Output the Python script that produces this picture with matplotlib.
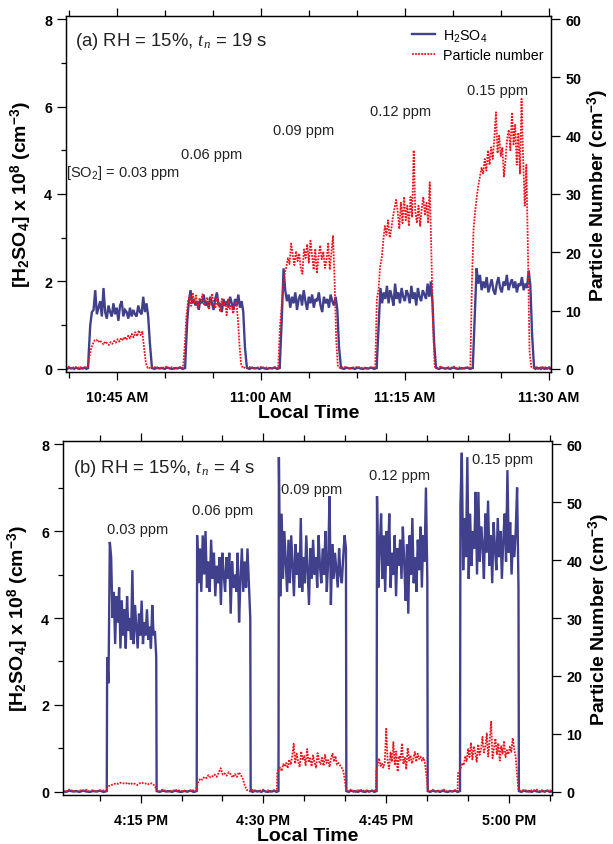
import numpy as np
import matplotlib
matplotlib.use('Agg')
import matplotlib.pyplot as plt
from matplotlib.ticker import MultipleLocator, FuncFormatter

plt.rcParams['font.family'] = ['Liberation Sans', 'DejaVu Sans']
plt.rcParams['mathtext.fontset'] = 'custom'
plt.rcParams['mathtext.rm'] = 'Liberation Sans'
plt.rcParams['mathtext.bf'] = 'Liberation Sans:bold'
plt.rcParams['mathtext.it'] = 'Liberation Serif:italic'

NAVY = '#40408c'
RED = '#f0141e'

# ---------------- panel (a): minutes after 10:40 AM ----------------
a_t0 = 10 * 60 + 40
a_h_win = [(2.05, 8.6), (12.15, 18.5), (22.0, 28.3), (32.1, 38.2), (42.1, 48.4)]
a_h_vals = [
    [0.3, 1.0, 1.3, 1.35, 1.8, 1.25, 1.4, 1.55, 1.2, 1.85, 1.3, 1.15, 1.45, 1.3, 1.2, 1.5, 1.25, 1.4, 1.1, 1.45,
     1.55, 1.2, 1.35, 1.3, 1.15, 1.4, 1.2, 1.35, 1.25, 1.2, 1.45, 1.3, 1.25, 1.65, 1.3, 1.5, 1.2, 0.6, 0.15],
    [0.3, 1.1, 1.55, 1.8, 1.5, 1.6, 1.45, 1.55, 1.35, 1.6, 1.5, 1.7, 1.45, 1.55, 1.4, 1.65, 1.5, 1.35, 1.6, 1.75,
     1.45, 1.5, 1.3, 1.6, 1.45, 1.55, 1.4, 1.65, 1.5, 1.35, 1.6, 1.45, 1.7, 1.4, 1.55, 1.3, 0.5, 0.1],
    [0.3, 1.2, 2.3, 1.8, 1.55, 1.7, 1.4, 1.65, 1.5, 1.75, 1.35, 1.6, 1.7, 1.45, 1.8, 1.55, 1.35, 1.65, 1.5, 1.7,
     1.4, 1.6, 1.55, 1.75, 1.45, 1.3, 1.65, 1.5, 1.6, 1.4, 1.7, 1.55, 1.45, 1.65, 1.35, 0.5, 0.1],
    [0.3, 1.1, 1.85, 1.5, 1.75, 1.6, 1.9, 1.5, 1.8, 1.65, 1.45, 1.95, 1.6, 1.75, 1.5, 1.85, 1.65, 1.55, 1.8, 1.7,
     1.5, 1.9, 1.6, 1.75, 1.45, 1.85, 1.65, 1.55, 1.8, 1.7, 1.6, 1.95, 1.65, 2.0, 1.5, 0.6, 0.1],
    [0.3, 1.3, 2.3, 1.95, 2.15, 1.8, 2.0, 1.85, 2.1, 1.75, 1.9, 2.05, 1.8, 1.7, 1.95, 2.1, 1.85, 1.75, 2.0, 1.9,
     2.15, 1.8, 1.95, 2.05, 1.85, 2.0, 1.75, 1.95, 1.9, 2.1, 1.8, 1.95, 1.85, 2.25, 1.9, 0.8, 0.15],
]
a_p_win = [(1.95, 8.2), (11.9, 18.1), (21.8, 28.0), (31.9, 38.07), (41.8, 48.13)]
a_p_vals = [
    [0.3, 2.0, 3.6, 4.3, 4.9, 5.0, 4.6, 4.9, 4.5, 4.2, 4.7, 4.4, 4.1, 4.6, 4.3, 4.8, 4.5, 5.1, 4.7, 5.3,
     4.9, 5.5, 5.0, 5.7, 5.2, 6.0, 5.4, 6.3, 5.6, 6.6, 5.8, 6.4, 3.5, 1.0, 0.2],
    [0.5, 4.0, 9.0, 11.5, 12.5, 10.8, 12.9, 11.2, 12.6, 10.5, 12.0, 11.7, 12.8, 10.9, 11.5, 12.3, 10.2, 11.8,
     12.9, 11.0, 10.4, 12.2, 11.3, 9.8, 12.0, 10.7, 11.4, 9.2, 12.1, 10.3, 11.0, 9.5, 10.8, 11.6, 8.5, 4.0, 0.8, 0.2],
    [0.5, 7.0, 10.5, 14.0, 16.5, 17.5, 19.0, 18.0, 21.5, 19.5, 17.8, 20.2, 18.5, 19.8, 17.2, 16.3, 20.5, 19.0,
     21.4, 18.2, 22.0, 19.5, 17.0, 20.6, 16.4, 19.2, 21.2, 18.8, 20.1, 17.3, 18.7, 21.5, 17.0, 19.9, 22.8, 15.0,
     5.0, 0.6],
    [0.5, 12.0, 13.5, 17.5, 19.0, 22.0, 24.5, 23.0, 25.5, 22.5, 24.0, 26.0, 27.5, 29.0, 27.0, 24.0, 28.5, 25.0,
     29.5, 25.5, 28.0, 24.5, 29.5, 26.0, 37.5, 27.0, 25.0, 28.0, 24.5, 27.5, 29.5, 26.5, 28.5, 25.0, 32.0, 20.0,
     8.0, 1.0],
    [0.5, 15.0, 24.0, 27.0, 29.5, 31.5, 33.0, 34.5, 33.5, 36.0, 34.0, 37.5, 35.0, 38.0, 36.0, 39.5, 44.0, 37.0,
     40.0, 36.5, 38.0, 33.0, 36.0, 39.5, 41.0, 37.5, 44.0, 38.5, 42.0, 35.0, 40.5, 33.5, 46.3, 36.0, 28.0, 35.0,
     20.0, 3.0, 0.5],
]
a_labels = ['[SO$_2$] = 0.03 ppm', '0.06 ppm', '0.09 ppm', '0.12 ppm', '0.15 ppm']
a_label_xy = [(-0.3, 4.5), (11.64, 4.91), (21.2, 5.46), (31.3, 5.9), (41.5, 6.38)]

# ---------------- panel (b): minutes after 4:10 PM ----------------
b_t0 = 16 * 60 + 10
b_h_win = [(0.9, 6.9), (11.9, 18.4), (21.9, 30.1), (33.9, 40.05), (44.1, 51.2)]
b_h_vals = [
    [3.1, 2.5, 5.75, 5.4, 4.0, 4.6, 3.4, 4.5, 3.9, 4.7, 3.3, 4.4, 3.6, 4.2, 3.3, 4.5, 3.7, 4.0, 3.5, 5.1,
     3.4, 4.3, 3.8, 3.3, 4.1, 3.6, 4.4, 3.4, 3.9, 3.6, 4.2, 3.5, 3.8, 3.3, 4.3, 3.6, 3.7, 3.1],
    [5.9, 4.8, 5.6, 4.6, 5.9, 5.0, 6.0, 4.7, 5.3, 4.6, 5.8, 4.9, 5.5, 4.5, 5.2, 4.8, 5.4, 4.3, 5.5, 5.0,
     4.6, 5.4, 4.9, 5.5, 4.1, 5.3, 4.7, 5.0, 4.6, 5.5, 3.9, 4.9, 5.6, 4.6, 5.3, 4.7, 5.6, 4.8, 4.0],
    [7.7, 4.5, 6.4, 4.9, 6.0, 5.3, 4.6, 5.8, 4.8, 5.9, 5.2, 4.5, 5.7, 5.0, 5.5, 4.7, 6.3, 4.6, 5.4, 4.8,
     5.9, 5.1, 4.3, 5.6, 4.9, 5.8, 5.0, 5.4, 4.7, 5.9, 5.2, 4.8, 5.6, 5.0, 6.0, 4.6, 5.3, 6.8, 4.3, 5.7,
     4.9, 5.5, 5.1, 4.7, 5.6, 5.0, 4.8, 5.4, 5.9, 5.6],
    [6.8, 4.7, 5.6, 6.4, 4.9, 5.9, 4.6, 6.0, 5.2, 6.4, 4.7, 5.5, 5.0, 5.9, 4.5, 5.6, 5.2, 5.8, 4.9, 6.1,
     5.3, 4.4, 5.7, 4.1, 5.9, 5.0, 6.3, 4.8, 5.4, 4.6, 5.8, 5.1, 6.1, 4.7, 5.9, 5.3, 7.0, 4.9],
    [6.6, 7.8, 5.1, 6.3, 5.4, 7.7, 4.9, 6.4, 5.2, 6.0, 5.6, 6.9, 5.0, 6.9, 5.3, 6.1, 5.7, 4.9, 6.4, 5.5,
     6.7, 5.2, 5.9, 4.8, 6.2, 5.6, 5.1, 6.3, 5.4, 6.0, 4.9, 5.8, 6.4, 5.3, 7.4, 5.5, 6.2, 5.0, 5.9, 5.4,
     6.0, 7.0, 4.7],
]
b_p_win = [(0.8, 6.9), (11.8, 18.0), (21.7, 30.1), (33.8, 40.1), (43.8, 51.2)]
b_p_vals = [
    [0.5, 1.0, 1.2, 1.3, 1.5, 1.4, 1.6, 1.5, 1.4, 1.6, 1.3, 1.5, 1.4, 1.2, 1.5, 1.6, 1.4, 1.5, 1.3, 1.5, 1.2, 0.6],
    [0.6, 1.8, 2.3, 2.1, 2.6, 2.4, 2.9, 2.5, 2.7, 3.0, 2.6, 3.3, 4.1, 3.0, 3.2, 2.8, 3.4, 3.0, 2.5, 3.1,
     2.6, 3.4, 2.9, 2.2, 1.0, 0.3],
    [3.4, 3.9, 4.2, 3.6, 4.8, 4.4, 5.0, 4.1, 5.6, 4.7, 6.1, 8.3, 4.9, 6.6, 5.2, 4.3, 7.0, 5.5, 6.2, 4.6,
     7.4, 5.1, 5.8, 4.4, 6.3, 5.0, 4.2, 6.7, 5.3, 4.8, 5.9, 4.5, 6.4, 5.0, 5.5, 4.3, 5.8, 6.6, 5.2, 6.2,
     4.7, 5.0, 4.6, 4.2, 3.9, 2.5, 0.6],
    [3.4, 4.6, 5.8, 4.5, 4.9, 4.2, 5.1, 10.9, 5.3, 4.0, 6.8, 5.2, 8.6, 4.6, 7.0, 3.5, 6.2, 5.5, 8.4, 4.8,
     6.0, 3.9, 7.6, 5.4, 6.3, 4.9, 5.8, 6.9, 5.2, 6.6, 5.7, 6.1, 5.4, 5.9, 5.0, 3.2, 0.5],
    [3.2, 3.6, 4.2, 5.0, 4.6, 6.2, 5.3, 7.4, 6.0, 8.5, 5.6, 7.9, 6.7, 5.2, 8.2, 6.4, 7.3, 9.5, 6.8, 7.7,
     10.1, 6.1, 8.9, 12.1, 5.8, 7.6, 9.2, 6.5, 8.4, 5.4, 7.9, 6.6, 8.8, 6.0, 7.2, 6.5, 7.8, 6.9, 9.3, 7.4,
     6.2, 3.0, 0.5],
]
b_labels = ['0.03 ppm', '0.06 ppm', '0.09 ppm', '0.12 ppm', '0.15 ppm']
b_label_xy = [(0.84, 6.05), (11.24, 6.48), (22.1, 6.97), (32.9, 7.29), (45.5, 7.66)]

# baseline readings between SO2 pulses
base_h = [0.02, 0.0, 0.03, 0.01, 0.02, 0.0, 0.03, 0.01, 0.0, 0.02, 0.01, 0.03, 0.0, 0.02]
base_p = [0.3, 0.1, 0.4, 0.2, 0.0, 0.3, 0.2, 0.4, 0.1, 0.3, 0.0, 0.2, 0.3, 0.1]


def series(windows, values, base, t_lo, t_hi):
    t, y = [], []
    edges = [t_lo] + [w for win in windows for w in win] + [t_hi]
    for i in range(len(windows) + 1):
        g0, g1 = edges[2 * i], edges[2 * i + 1]
        t += list(np.linspace(g0 + 0.05, g1 - 0.05, len(base)))
        y += base
        if i < len(windows):
            s, e = windows[i]
            t += list(np.linspace(s, e, len(values[i])))
            y += values[i]
    return np.array(t), np.array(y)


def clock(m, pos):
    h, mm = divmod(int(round(m)), 60)
    ampm = 'AM' if h < 12 else 'PM'
    if h > 12:
        h -= 12
    return f'{h}:{mm:02d} {ampm}'


def panel(ax, t0, xlim, h_win, h_vals, p_win, p_vals, title, title_xy, labels, label_xy, legend=False):
    th, yh = series(h_win, h_vals, base_h, xlim[0] - 0.1, xlim[1] + 0.1)
    tp, yp = series(p_win, p_vals, base_p, xlim[0] - 0.1, xlim[1] + 0.1)
    lh, = ax.plot(t0 + th, yh, color=NAVY, lw=1.7, solid_joinstyle='miter')
    ax2 = ax.twinx()
    lp, = ax2.plot(t0 + tp, yp, color=RED, lw=1.3, ls=(0, (1, 0.7)))

    ax.set_xlim(t0 + xlim[0], t0 + xlim[1])
    ax.set_ylim(-0.07, 8.07)
    ax2.set_ylim(-0.525, 60.525)

    ax.xaxis.set_major_locator(MultipleLocator(15))
    ax.xaxis.set_minor_locator(MultipleLocator(5))
    ax.xaxis.set_major_formatter(FuncFormatter(clock))
    ax.yaxis.set_major_locator(MultipleLocator(2))
    ax.yaxis.set_minor_locator(MultipleLocator(1))
    ax2.yaxis.set_major_locator(MultipleLocator(10))

    ax.tick_params(axis='x', which='both', direction='out', top=True, labeltop=False,
                   labelsize=10.3, pad=7, width=0.9)
    ax.tick_params(axis='x', which='major', length=6)
    ax.tick_params(axis='x', which='minor', length=4)
    ax.tick_params(axis='y', which='major', direction='out', length=6.5, width=0.9, labelsize=10.3, pad=3.5)
    ax.tick_params(axis='y', which='minor', direction='out', length=3.5, width=0.9)
    ax2.tick_params(axis='y', direction='out', length=6.5, width=0.9, labelsize=10.3, pad=4)
    for lab in ax.get_xticklabels() + ax.get_yticklabels() + ax2.get_yticklabels():
        lab.set_fontweight('bold')
    for a in (ax, ax2):
        for s in a.spines.values():
            s.set_linewidth(0.9)

    ax.set_xlabel('Local Time', fontsize=14, fontweight='bold', labelpad=0)
    ax.set_ylabel(r'[H$_\mathbf{2}$SO$_\mathbf{4}$] x 10$^\mathbf{8}$ (cm$^\mathbf{-3}$)',
                  fontsize=14, fontweight='bold')
    ax.yaxis.set_label_coords(-0.065, 0.5)
    ax2.set_ylabel(r'Particle Number (cm$^\mathbf{-3}$)', fontsize=14, fontweight='bold')
    ax2.yaxis.set_label_coords(1.072, 0.5)

    ax.text(t0 + title_xy[0], title_xy[1], title, fontsize=13.3, color='#222222', ha='left', va='center')
    for s, (x, y) in zip(labels, label_xy):
        ax.text(t0 + x, y, s, fontsize=10.5, color='#222222', ha='left', va='center')

    if legend:
        ax2.legend([lh, lp], ['H$_2$SO$_4$', 'Particle number'], loc='upper right',
                   bbox_to_anchor=(1.0, 0.99), frameon=False, fontsize=10.3, handlelength=1.6,
                   handletextpad=0.5, labelspacing=0.3, borderpad=0.35, borderaxespad=0.2)


fig = plt.figure(figsize=(6.13, 8.45), dpi=100)
axA = fig.add_axes([0.1077, 0.5586, 0.7912, 0.4213])
axB = fig.add_axes([0.1028, 0.058, 0.7977, 0.4189])

panel(axA, a_t0, (-0.3, 50.2), a_h_win, a_h_vals, a_p_win, a_p_vals,
      '(a) RH = 15%, $t_n$ = 19 s', (0.62, 7.5), a_labels, a_label_xy, legend=True)
panel(axB, b_t0, (-4.5, 55.3), b_h_win, b_h_vals, b_p_win, b_p_vals,
      '(b) RH = 15%, $t_n$ = 4 s', (-3.3, 7.47), b_labels, b_label_xy)

fig.savefig('out.png', dpi=100)
